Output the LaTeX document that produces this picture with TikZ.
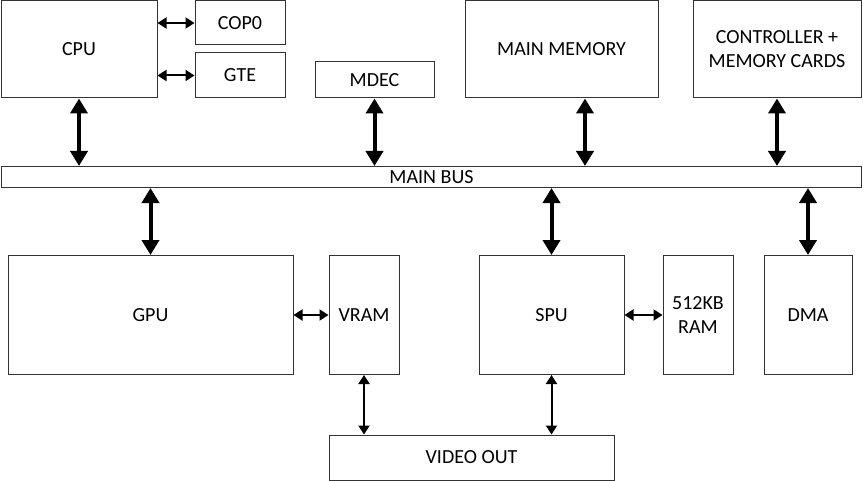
\documentclass[tikz,border=0pt]{standalone}
\usepackage{fontspec}
\setmainfont{Carlito}
\usepackage{tikz}
\usetikzlibrary{arrows.meta}

\begin{document}
\begin{tikzpicture}[x=1pt,y=-1pt,
		box/.style={draw=black!80, line width=1pt, inner sep=0pt, align=center, font=\fontsize{20}{24}\selectfont},
		dick/.style={line width=4pt, {Triangle[width=17pt,length=15pt]}-{Triangle[width=17pt,length=15pt]}},
		duenn/.style={line width=2pt, {Triangle[width=11pt,length=9pt]}-{Triangle[width=11pt,length=9pt]}}]
		\useasboundingbox (0,0) rectangle (864,481);
		
		% CPU
		\node[box, minimum width=156, minimum height=97] (cpu) at (79,49.5) {CPU};
		\node[box, minimum width=90, minimum height=44] (cop) at (240,23) {COP0};
		\node[box, minimum width=90, minimum height=45] (gte) at (240,75.5) {GTE};
		
		% MDEC, Speicher, Controller
		\node[box, minimum width=119, minimum height=36] (mdec) at (374.5,80) {MDEC};
		\node[box, minimum width=193, minimum height=97] (mem) at (561.5,49.5) {MAIN MEMORY};
		\node[box, minimum width=168, minimum height=97] (ctrl) at (777,49.5) {CONTROLLER +\\MEMORY CARDS};
		
		% Bus
		\node[box, minimum width=860, minimum height=21] (bus) at (431.5,177) {MAIN BUS};
		
		% GPU, SPU, DMA
		\node[box, minimum width=285, minimum height=119] (gpu) at (150.5,315) {GPU};
		\node[box, minimum width=70, minimum height=119] (vram) at (364,315) {VRAM};
		\node[box, minimum width=145, minimum height=119] (spu) at (551.5,315) {SPU};
		\node[box, minimum width=70, minimum height=119] (sram) at (698,315) {512KB\\RAM};
		\node[box, minimum width=88, minimum height=119] (dma) at (808,315) {DMA};
		\node[box, minimum width=285, minimum height=45] (vout) at (471.5,457.5) {VIDEO OUT};
		
		% Pfeile zum Bus
		\draw[dick] (cpu.south) -- (cpu.south |- bus.north);
		\draw[dick] (mdec.south) -- (mdec.south |- bus.north);
		\draw[dick] ([xshift=23.5pt]mem.south) -- ([xshift=23.5pt]mem.south |- bus.north);
		\draw[dick] (ctrl.south) -- (ctrl.south |- bus.north);
		\draw[dick] (gpu.north |- bus.south) -- (gpu.north);
		\draw[dick] (spu.north |- bus.south) -- (spu.north);
		\draw[dick] (dma.north |- bus.south) -- (dma.north);
		
		% kleine Pfeile
		\draw[duenn] (cpu.east |- cop.west) -- (cop.west);
		\draw[duenn] (cpu.east |- gte.west) -- (gte.west);
		\draw[duenn] (gpu.east) -- (vram.west);
		\draw[duenn] (spu.east) -- (sram.west);
		\draw[duenn] (vram.south) -- (vram.south |- vout.north);
		\draw[duenn] (spu.south) -- (spu.south |- vout.north);
	\end{tikzpicture}
\end{document}
